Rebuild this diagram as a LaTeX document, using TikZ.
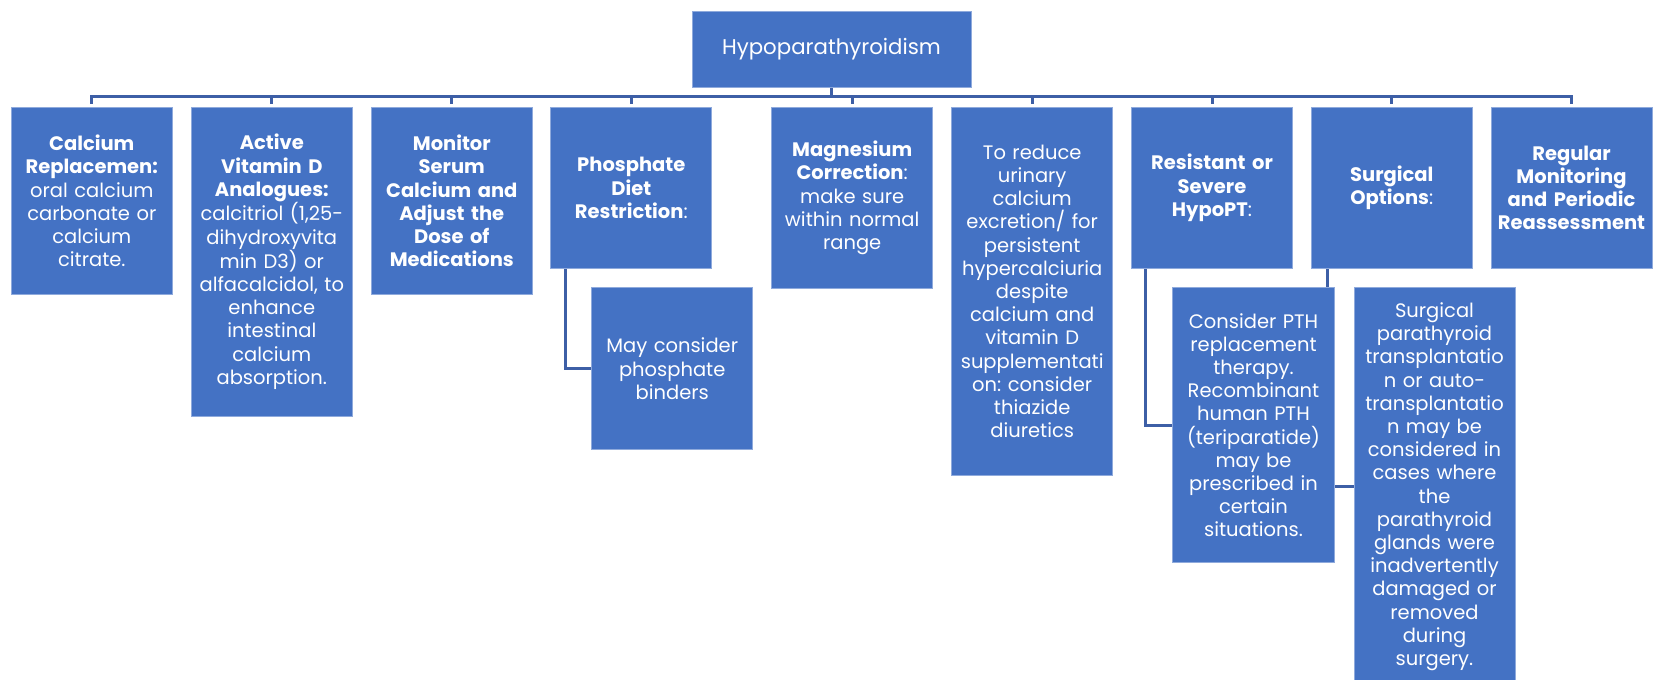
\documentclass[tikz,border=0pt]{standalone}
\usepackage{fontspec}
\setmainfont{Poppins}
\usetikzlibrary{backgrounds}
\definecolor{boxblue}{HTML}{4472C4}
\definecolor{boxrim}{HTML}{8FAADC}
\definecolor{linkblue}{HTML}{3D5FA6}
\frenchspacing
\tikzset{
  topic/.style = {rectangle,fill=boxblue,draw=boxrim,line width=0.8pt,text=white,
    align=center,inner sep=0pt,text width=161pt,minimum height=#1,anchor=north,
    font=\fontsize{19.5}{23.2}\selectfont},
  link/.style = {draw=linkblue,line width=3pt}
}
\newcommand\fullline[1]{\makebox[161pt][c]{#1}}

\begin{document}
\begin{tikzpicture}[x=1pt,y=-1pt]
  \useasboundingbox (0,0) rectangle (1655,680);
  \node[topic=76pt,text width=279pt,font=\fontsize{21.3}{25}\selectfont] (root) at (831.5,10.5) {Hypoparathyroidism};

  % first row
  \node[topic=187pt] (calc) at (91.8,107) {\textbf{Calcium}\\ \textbf{Replacemen:}\\ oral calcium\\ carbonate or\\ calcium\\ citrate.};
  \node[topic=309pt] (vitd) at (271.8,107) {\textbf{Active}\\ \textbf{Vitamin D}\\ \textbf{Analogues:}\\ calcitriol (1,25-\\ dihydroxyvita\\ min D3) or\\ \fullline{alfacalcidol, to}\\ enhance\\ intestinal\\ calcium\\ absorption.};
  \node[topic=187pt] (serum) at (451.8,107) {\textbf{Monitor}\\ \textbf{Serum}\\ \textbf{Calcium and}\\ \textbf{Adjust the}\\ \textbf{Dose of}\\ \textbf{Medications}};
  \node[topic=161pt] (phos) at (631.3,107) {\textbf{Phosphate}\\ \textbf{Diet}\\ \textbf{Restriction}:};
  \node[topic=181pt] (magn) at (852.2,107) {\textbf{Magnesium}\\ \textbf{Correction}:\\ make sure\\ within normal\\ range};
  \node[topic=368pt] (urine) at (1032.2,107) {To reduce\\ urinary\\ calcium\\ excretion/ for\\ persistent\\ hypercalciuria\\ despite\\ calcium and\\ vitamin D\\ supplementati\\ on: consider\\ thiazide\\ diuretics};
  \node[topic=161pt] (resist) at (1212,107) {\textbf{Resistant or}\\ \textbf{Severe}\\ \textbf{HypoPT}:};
  \node[topic=161pt] (surg) at (1391.8,107) {\textbf{Surgical}\\ \textbf{Options}:};
  \node[topic=161pt] (review) at (1571.5,107) {\textbf{Regular}\\ \textbf{Monitoring}\\ \textbf{and Periodic}\\ \fullline{\textbf{Reassessment}}};

  % second row
  \node[topic=162pt] (binder) at (672.2,287.3) {May consider\\ phosphate\\ binders};
  \node[topic=275pt,text width=162pt] (pth) at (1253.5,287.3) {Consider PTH\\ replacement\\ therapy.\\ Recombinant\\ human PTH\\ (teriparatide)\\ may be\\ prescribed in\\ certain\\ situations.};
  \node[topic=398pt] (graft) at (1434.5,287.3) {Surgical\\ parathyroid\\ transplantatio\\ n or auto-\\ transplantatio\\ n may be\\ considered in\\ cases where\\ the\\ parathyroid\\ glands were\\ inadvertently\\ damaged or\\ removed\\ during\\ surgery.};

  \begin{scope}[on background layer]
    \coordinate (bus) at (0,96.5);
    \foreach \n in {calc,vitd,serum,phos,magn,urine,resist,surg,review}
      \draw[link] (root.south) |- (bus -| \n.north) -- ([yshift=3pt]\n.north);
    \draw[link] ([xshift=15pt]phos.south west) |- (binder.west);
    \draw[link] ([xshift=14.5pt]resist.south west) |- (pth.west);
    \draw[link] ([xshift=16.5pt]surg.south west) |- (graft.west);
  \end{scope}
\end{tikzpicture}
\end{document}
